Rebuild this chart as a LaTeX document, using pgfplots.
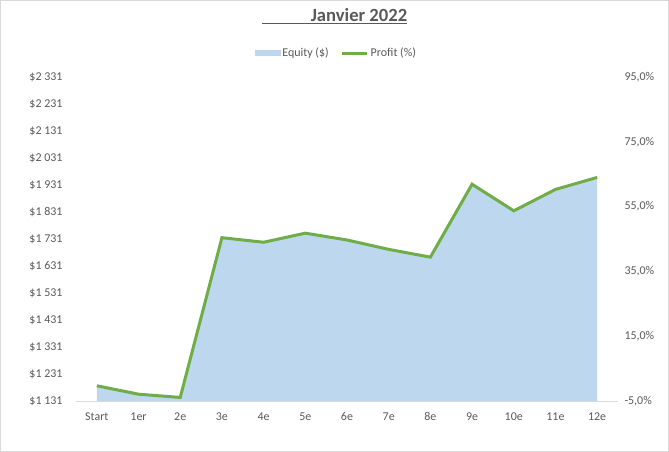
\documentclass[border=0pt]{standalone}
\usepackage{fontspec}
\setmainfont{Carlito}
\usepackage{pgfplots}
\pgfplotsset{compat=1.18}
\definecolor{areablue}{HTML}{BDD7EE}
\definecolor{linegreen}{HTML}{70AD47}
\definecolor{txtgray}{HTML}{595959}
\definecolor{axgray}{HTML}{D9D9D9}
\begin{document}
\begin{tikzpicture}
\begin{axis}[
  at={(0,0)}, anchor=south west,
  scale only axis, width=542bp, height=324bp,
  xmin=-0.5, xmax=12.5, ymin=1131, ymax=2331,
  axis x line*=bottom, axis y line*=left,
  y axis line style={draw=none},
  x axis line style={axgray, line width=1bp},
  xtick={0,...,12},
  xticklabels={Start,1er,2e,3e,4e,5e,6e,7e,8e,9e,10e,11e,12e},
  ytick={1131,1231,1331,1431,1531,1631,1731,1831,1931,2031,2131,2231,2331},
  yticklabels={\$1 131,\$1 231,\$1 331,\$1 431,\$1 531,\$1 631,\$1 731,\$1 831,\$1 931,\$2 031,\$2 131,\$2 231,\$2 331},
  major tick length=0pt, tick style={draw=none},
  ticklabel style={font=\fontsize{12}{14}\selectfont, text=txtgray},
  xticklabel style={yshift=-8bp},
  yticklabel style={xshift=-10bp},
  title={\underline{\hspace{49bp}Janvier 2022}},
  title style={at={(rel axis cs:0.477,1.17)}, anchor=center, font=\fontsize{18.7}{22}\selectfont\bfseries, text=txtgray},
]
\addplot[fill=areablue, draw=none] coordinates {
(0,1187.4) (1,1155.0) (2,1144.2) (3,1735.8) (4,1719.0) (5,1752.6) (6,1727.4)
(7,1692.6) (8,1663.8) (9,1933.8) (10,1835.4) (11,1914.6) (12,1959.0)
} \closedcycle;
\end{axis}
\begin{axis}[
  at={(0,0)}, anchor=south west,
  scale only axis, width=542bp, height=324bp,
  xmin=-0.5, xmax=12.5, ymin=-5, ymax=95,
  axis x line=none, axis y line*=right,
  y axis line style={draw=none},
  xtick=\empty,
  ytick={-5,15,35,55,75,95},
  yticklabels={{-5,0\%},{15,0\%},{35,0\%},{55,0\%},{75,0\%},{95,0\%}},
  major tick length=0pt, tick style={draw=none},
  ticklabel style={font=\fontsize{12}{14}\selectfont, text=txtgray},
  yticklabel style={xshift=3bp},
  legend columns=2,
  legend style={at={(rel axis cs:0.4806,1.074)}, anchor=center, draw=none, fill=none,
    font=\fontsize{12}{14}\selectfont, text=txtgray,
    /tikz/every even column/.append style={column sep=10bp}},
]
\addlegendimage{legend image code/.code={\fill[areablue] (0bp,-2.5bp) rectangle (25bp,2.5bp);}}
\addlegendentry{Equity (\$)}
\addplot[linegreen, line width=3bp, legend image code/.code={\draw[linegreen, line width=3bp] (0bp,0bp) -- (25bp,0bp);}] coordinates {
(0,-0.3) (1,-2.9) (2,-3.9) (3,45.4) (4,44.0) (5,46.8) (6,44.7)
(7,41.8) (8,39.4) (9,61.9) (10,53.7) (11,60.3) (12,64.0)
};
\addlegendentry{Profit (\%)}
\end{axis}
\draw[axgray, line width=1bp] (-75.5bp,-50.5bp) rectangle (592.5bp,400.5bp);
\end{tikzpicture}
\end{document}
